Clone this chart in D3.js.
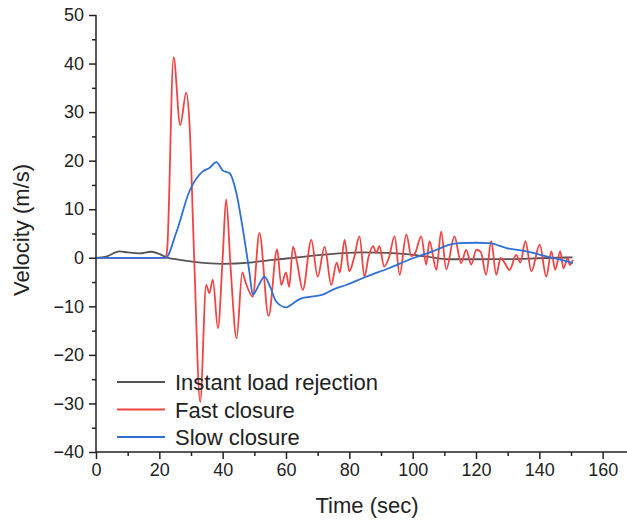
<!DOCTYPE html>
<html>
<head>
<meta charset="utf-8">
<script src="https://cdn.jsdelivr.net/npm/d3@7"></script>
<style>
  body { margin: 0; background: #fff; }
  svg { font-family: "Liberation Sans", Arial, sans-serif; }
</style>
</head>
<body>
<svg id="chart"></svg>
<script>
// series: [time (sec), velocity (m/s)]
const instantLoad = [
  [0, 0], [3, 0.2], [7.4, 1.3], [10, 1.1], [13.7, 0.9], [17.4, 1.24], [20, 0.8], [22.2, 0.1],
  [26, -0.4], [31.6, -0.9], [40, -1.24], [48.5, -1.0], [55, -0.5], [61, -0.1], [71.5, 0.6],
  [84, 1.1], [92, 1.0], [98, 0.75], [105, 0.2], [111.7, -0.3], [120, -0.3], [129.6, -0.27],
  [140, -0.1], [150.5, 0.1]
]

const fastClosure = [
  [0, 0], [22, 0], [22.5, 2], [24.5, 41.3], [26.6, 27.3], [28.5, 34], [29.5, 28], [31, 0],
  [32.9, -29.7], [34.8, -5.6], [35.8, -7.3], [36.9, -4.5], [38.5, -14.5], [40, 0], [41.1, 12],
  [42.5, -2], [44.4, -16.6], [46.2, -3], [47.2, -5], [49.5, -8], [51.6, 5.1], [54.5, -12],
  [57.2, 1.7], [58.5, -5.6], [60, -3], [61, -6], [62.2, 2.3], [63.5, -1], [65.3, -6.6],
  [68, 3.7], [70, -3.9], [72.2, 2.3], [74.3, -5.6], [76, -1], [77, -3], [78.5, 3.7],
  [80, -2.8], [81.5, 0], [83.2, 4.4], [84.8, -3.9], [86, 0], [87.5, 2.4], [88.5, 1],
  [89.5, 2.4], [91, -1.8], [92.5, 0], [94.3, 4.4], [95.9, -3.5], [98, 4.8], [99.6, 0.3],
  [100.8, 1], [102.7, 4.4], [104.3, -1.4], [105.3, 3.4], [107.5, -2.5], [109, 5.4],
  [110.6, -2.4], [113.2, 4.4], [115.3, -1.1], [116.9, 1.6], [118.5, -1.4], [120.1, 1.65],
  [121.5, 1.2], [123.2, -3.5], [124.8, 3.4], [126.4, -3.5], [127.8, 0], [129, -1],
  [130.6, -2.5], [132.7, 0.6], [134, -1], [135.6, 3.4], [137.5, -2.8], [140.1, 2.7],
  [142.2, -3.9], [143.8, 1.3], [145, -2.5], [146.6, 1.3], [147.6, -2.2], [149, 0],
  [149.6, -1.5], [150.6, -0.4]
]

const slowClosure = [
  [0, 0], [22, 0], [25.3, 5.1], [29.5, 13.7], [33.7, 17.8], [35.8, 18.5], [38, 19.7],
  [40, 18], [42.2, 17.4], [44.3, 13.4], [46.4, 5.8], [48.5, -3.2], [49.5, -7.6], [51.5, -5.5],
  [53.2, -3.9], [55, -6], [56.9, -9], [60, -10.2], [62, -9.5], [64.3, -8.5], [68, -8],
  [71.6, -7.6], [75, -6.5], [79, -5.6], [85.3, -3.9], [92.7, -2.1], [100, -0.1], [104, 0.8],
  [107.5, 1.65], [111.7, 2.7], [114.8, 3.0], [120, 3.1], [124.3, 3.0], [129.6, 2.0],
  [135.9, 1.3], [142.2, 0.3], [146, -0.3], [150.6, -1.1]
]

const seriesNames = ["Instant load rejection", "Fast closure", "Slow closure"]
const seriesColors = ["#555555", "#f04444", "#2f6fd6"]
const xTicks = [0, 20, 40, 60, 80, 100, 120, 140, 160]
const yTicks = [-40, -30, -20, -10, 0, 10, 20, 30, 40, 50]

const width = 627
const height = 522
const margin = { top: 15, right: 0, bottom: 70, left: 96 }

const svg = d3.select("#chart")
  .attr("width", width)
  .attr("height", height)

const x = d3.scaleLinear().domain([0, 168]).range([margin.left, width - margin.right + 1])
const y = d3.scaleLinear().domain([-40, 50]).range([height - margin.bottom, margin.top])

// cut-off title at the very top, only the descenders show
svg.append("text")
  .attr("x", 408).attr("y", -6)
  .attr("text-anchor", "end")
  .attr("font-size", 28).attr("font-weight", "bold")
  .text("Velocity")
svg.append("text")
  .attr("x", 417).attr("y", -6)
  .attr("font-size", 28).attr("font-weight", "bold")
  .text("Change")

// lines
const line = d3.line()
  .x(d => x(d[0]))
  .y(d => y(d[1]))
  .curve(d3.curveMonotoneX)

const allSeries = [instantLoad, fastClosure, slowClosure]
allSeries.forEach((s, i) => {
  svg.append("path")
    .datum(s)
    .attr("fill", "none")
    .attr("stroke", seriesColors[i])
    .attr("stroke-width", 1.8)
    .attr("stroke-linejoin", "round")
    .attr("d", line)
})

// x axis
const xAxis = svg.append("g")
  .attr("transform", `translate(0,${y(-40)})`)
xAxis.call(d3.axisBottom(x).tickValues(d3.range(10, 170, 20)).tickSize(4).tickFormat(""))
  .call(g => g.select(".domain").remove())
xAxis.append("g")
  .call(d3.axisBottom(x).tickValues(xTicks).tickSize(7).tickPadding(4))
  .call(g => g.select(".domain").remove())
  .call(g => g.selectAll("text").attr("font-size", 18).attr("fill", "#222").attr("font-family", null))
xAxis.append("line")
  .attr("x1", x(0)).attr("x2", width)
  .attr("stroke", "#222").attr("stroke-width", 1.5)
xAxis.selectAll(".tick line").attr("stroke", "#222").attr("stroke-width", 1.5)

// y axis
const yAxis = svg.append("g")
  .attr("transform", `translate(${x(0)},0)`)
yAxis.call(d3.axisLeft(y).tickValues(d3.range(-35, 50, 10)).tickSize(4).tickFormat(""))
  .call(g => g.select(".domain").remove())
yAxis.append("g")
  .call(d3.axisLeft(y).tickValues(yTicks).tickSize(7).tickPadding(5))
  .call(g => g.select(".domain").remove())
  .call(g => g.selectAll("text").attr("font-size", 18).attr("fill", "#222").attr("font-family", null))
yAxis.append("line")
  .attr("y1", y(-40)).attr("y2", y(50))
  .attr("stroke", "#222").attr("stroke-width", 1.5)
yAxis.selectAll(".tick line").attr("stroke", "#222").attr("stroke-width", 1.5)

// axis titles
svg.append("text")
  .attr("x", 367).attr("y", 513)
  .attr("text-anchor", "middle")
  .attr("font-size", 22).attr("fill", "#222")
  .text("Time (sec)")

svg.append("text")
  .attr("transform", `translate(29,230) rotate(-90)`)
  .attr("text-anchor", "middle")
  .attr("font-size", 22).attr("fill", "#222")
  .text("Velocity (m/s)")

// legend
const legend = svg.append("g").attr("transform", "translate(117,382)")
seriesNames.forEach((name, i) => {
  const row = legend.append("g").attr("transform", `translate(0,${i * 27.5})`)
  row.append("line")
    .attr("x1", 0).attr("x2", 48)
    .attr("stroke", seriesColors[i]).attr("stroke-width", 1.8)
  row.append("text")
    .attr("x", 58).attr("y", 8)
    .attr("font-size", 22).attr("fill", "#222")
    .text(name)
})
</script>
</body>
</html>
